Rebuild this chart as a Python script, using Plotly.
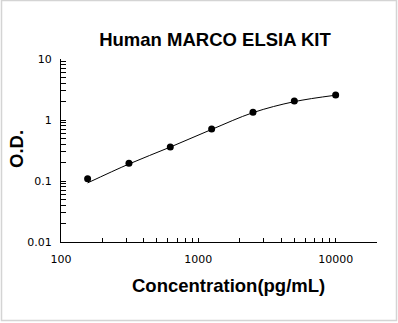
import plotly.graph_objects as go

# Data
conc = [156.25, 312.5, 625, 1250, 2500, 5000, 10000]
od = [0.109, 0.195, 0.36, 0.71, 1.34, 2.05, 2.58]
curve_od = [0.093, 0.19, 0.36, 0.70, 1.32, 2.0, 2.55]

x_ticks = [100, 200, 300, 400, 500, 600, 700, 800, 900,
           1000, 2000, 3000, 4000, 5000, 6000, 7000, 8000, 9000,
           10000, 20000]
x_labels = ["100", "", "", "", "", "", "", "", "",
            "1000", "", "", "", "", "", "", "", "",
            "10000", ""]
y_ticks = [0.01, 0.02, 0.03, 0.04, 0.05, 0.06, 0.07, 0.08, 0.09,
           0.1, 0.2, 0.3, 0.4, 0.5, 0.6, 0.7, 0.8, 0.9,
           1, 2, 3, 4, 5, 6, 7, 8, 9, 10]
y_labels = ["0.01"] + [""] * 8 + ["0.1"] + [""] * 8 + ["1"] + [""] * 8 + ["10"]

W, H = 398, 323
L, R, T, B = 61, 21, 59, 81
pw, ph = W - L - R, H - T - B

fig = go.Figure()
fig.add_trace(go.Scatter(x=conc, y=curve_od, mode="lines",
                         line=dict(color="black", width=1, shape="spline"),
                         showlegend=False, hoverinfo="skip"))
fig.add_trace(go.Scatter(x=conc, y=od, mode="markers",
                         marker=dict(color="black", size=7),
                         showlegend=False))

axis_font = dict(family="DejaVu Sans", size=11, color="black")
title_font = dict(family="Liberation Sans", size=18.5, color="black")

fig.update_layout(
    width=W, height=H,
    margin=dict(l=L, r=R, t=T, b=B),
    paper_bgcolor="white", plot_bgcolor="white",
    font=dict(family="Liberation Sans", color="black"),
    title=dict(text="<b>Human MARCO ELSIA KIT</b>", font=title_font,
               x=215 / W, xanchor="center", y=1 - 40 / H, yanchor="middle"),
    xaxis=dict(type="log", range=[2, 4.301], tickvals=x_ticks, ticktext=x_labels,
               ticks="inside", ticklen=4, tickcolor="black", tickwidth=1,
               showline=True, linecolor="black", linewidth=1.3,
               showgrid=False, zeroline=False, tickfont=axis_font,
               ticklabelstandoff=7, automargin=False),
    yaxis=dict(type="log", range=[-2, 1], tickvals=y_ticks, ticktext=y_labels,
               ticks="inside", ticklen=5, tickcolor="black", tickwidth=1,
               showline=True, linecolor="black", linewidth=1.3,
               showgrid=False, zeroline=False, tickfont=axis_font,
               ticklabelstandoff=6, automargin=False),
    annotations=[
        dict(text="<b>Concentration(pg/mL)</b>", font=title_font,
             xref="paper", yref="paper",
             x=(229 - L) / pw, y=(H - B - 285) / ph,
             xanchor="center", yanchor="middle", showarrow=False),
        dict(text="<b>O.D.</b>", font=title_font, textangle=-90,
             xref="paper", yref="paper",
             x=(16 - L) / pw, y=(H - B - 149) / ph,
             xanchor="center", yanchor="middle", showarrow=False),
    ],
    shapes=[dict(type="rect", xref="paper", yref="paper",
                 x0=(1.5 - L) / pw, x1=(396.5 - L) / pw,
                 y0=(H - B - 320.5) / ph, y1=(H - B - 0.5) / ph,
                 line=dict(color="#d4d4d4", width=1.5), layer="below")],
)

fig.write_html("out.html")
